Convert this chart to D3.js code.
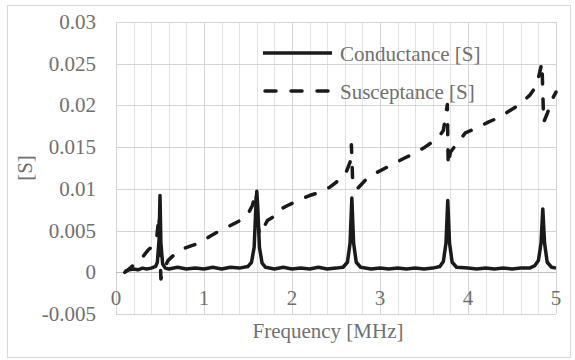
<!DOCTYPE html>
<html lang="en">
<head>
	<meta charset="utf-8">
	<title>Conductance and Susceptance</title>
	<script src="https://d3js.org/d3.v7.min.js"></script>
	<style>
		body { margin: 0; background: #fff; }
		.grid line { stroke: #e2e2e2; stroke-width: 1px; }
		.grid line.major { stroke: #d4d4d4; }
	</style>
</head>
<body>
	<div id="chart"></div>
	<script>
		// conductance
		var condFreq = [0.10, 0.15, 0.20, 0.25, 0.30, 0.35, 0.40, 0.45, 0.47, 0.49, 0.50, 0.51, 0.53, 0.56,
			0.60, 0.70, 0.80, 0.90, 1.00, 1.10, 1.20, 1.30, 1.40, 1.50, 1.54, 1.57, 1.59, 1.60, 1.61, 1.63, 1.66,
			1.70, 1.80, 1.90, 2.00, 2.10, 2.20, 2.30, 2.40, 2.50, 2.58, 2.63, 2.66, 2.68, 2.70, 2.73, 2.78,
			2.90, 3.00, 3.10, 3.20, 3.30, 3.40, 3.50, 3.60, 3.68, 3.72, 3.75, 3.77, 3.79, 3.82, 3.87,
			4.00, 4.10, 4.20, 4.30, 4.40, 4.50, 4.60, 4.70, 4.76, 4.80, 4.83, 4.85, 4.87, 4.90, 4.95, 5.00];
		var conductance = [0.0001, 0.0003, 0.0004, 0.0003, 0.0005, 0.0004, 0.0005, 0.0007, 0.0012, 0.0040, 0.0092, 0.0035, 0.0010, 0.0005,
			0.0004, 0.0006, 0.0004, 0.0005, 0.0004, 0.0006, 0.0004, 0.0006, 0.0005, 0.0007, 0.0012, 0.0030, 0.0080, 0.0097, 0.0080, 0.0030, 0.0011,
			0.0006, 0.0004, 0.0006, 0.0004, 0.0005, 0.0004, 0.0006, 0.0004, 0.0005, 0.0006, 0.0012, 0.0035, 0.0089, 0.0035, 0.0012, 0.0006,
			0.0004, 0.0005, 0.0004, 0.0005, 0.0004, 0.0005, 0.0004, 0.0005, 0.0007, 0.0013, 0.0035, 0.0086, 0.0035, 0.0012, 0.0006,
			0.0005, 0.0004, 0.0005, 0.0004, 0.0005, 0.0004, 0.0005, 0.0005, 0.0008, 0.0014, 0.0035, 0.0076, 0.0035, 0.0012, 0.0006, 0.0005];

		// susceptance
		var suscFreq = [0.10, 0.17, 0.24, 0.30, 0.36, 0.42, 0.46, 0.49, 0.50, 0.51, 0.53, 0.59, 0.69, 0.78, 0.86, 0.95,
			1.05, 1.18, 1.30, 1.41, 1.49, 1.55, 1.59, 1.61, 1.63, 1.66, 1.72, 1.81, 1.84, 1.95, 2.07, 2.20, 2.32,
			2.43, 2.49, 2.60, 2.66, 2.675, 2.69, 2.72, 2.75, 2.83, 2.97, 3.08, 3.19, 3.28, 3.40, 3.51, 3.66, 3.72,
			3.765, 3.775, 3.80, 3.88, 3.97, 4.10, 4.23, 4.34, 4.45, 4.57, 4.70, 4.78, 4.84, 4.86, 4.90, 4.95, 5.00];
		var susceptance = [0.0000, 0.0006, 0.0012, 0.0018, 0.0026, 0.0032, 0.0040, 0.0068, 0.0030, -0.0008, 0.0000, 0.0014, 0.0024, 0.0029, 0.0032, 0.0035,
			0.0042, 0.0050, 0.0056, 0.0062, 0.0068, 0.0080, 0.0096, 0.0060, 0.0045, 0.0050, 0.0062, 0.0068, 0.0074, 0.0080, 0.0086, 0.0092, 0.0096,
			0.0102, 0.0107, 0.0116, 0.0132, 0.0153, 0.0108, 0.0100, 0.0101, 0.0110, 0.0120, 0.0126, 0.0132, 0.0137, 0.0143, 0.0150, 0.0161, 0.0170,
			0.0201, 0.0128, 0.0144, 0.0155, 0.0167, 0.0173, 0.0180, 0.0185, 0.0192, 0.0200, 0.0212, 0.0224, 0.0251, 0.0180, 0.0190, 0.0206, 0.0216];

		var xTicks = [0, 1, 2, 3, 4, 5];
		var yTicks = [-0.005, 0, 0.005, 0.01, 0.015, 0.02, 0.025, 0.03];
		var yLabels = ["-0.005", "0", "0.005", "0.01", "0.015", "0.02", "0.025", "0.03"];
		var seriesNames = ["Conductance [S]", "Susceptance [S]"];

		(function() {
			var width = 575, height = 360;
			var pLeft = 116, pRight = 556, pTop = 22, pBottom = 314;
			var font = "'Liberation Serif'", textColor = "#707070";

			var svg = d3.select("#chart").append("svg")
				.attr("width", width)
				.attr("height", height);

			function label(sel) {
				return sel.attr("font-family", font)
					.attr("fill", textColor)
					.style("font-size", "21px");
			}

			// chart area border
			svg.append("rect")
				.attr("x", 7.5).attr("y", 5.5)
				.attr("width", 563).attr("height", 352)
				.attr("fill", "none")
				.attr("stroke", "#d9d9d9");

			var x = d3.scaleLinear().domain([0, 5]).range([pLeft, pRight]);
			var y = d3.scaleLinear().domain([-0.005, 0.03]).range([pBottom, pTop]);

			// gridlines: vertical every 0.2, horizontal every 0.005
			var grid = svg.append("g").attr("class", "grid");
			grid.selectAll("line.v")
				.data(d3.range(0, 26))
				.enter().append("line")
				.attr("class", function(i) { return i % 5 == 0 ? "v major" : "v minor"; })
				.attr("x1", function(i) { return Math.round(x(i * 0.2)) + 0.5; })
				.attr("x2", function(i) { return Math.round(x(i * 0.2)) + 0.5; })
				.attr("y1", pTop).attr("y2", pBottom);
			grid.selectAll("line.h")
				.data(yTicks)
				.enter().append("line")
				.attr("class", "h major")
				.attr("x1", pLeft).attr("x2", pRight)
				.attr("y1", function(d) { return Math.round(y(d)) + 0.5; })
				.attr("y2", function(d) { return Math.round(y(d)) + 0.5; });

			// zero axis line
			svg.append("line")
				.attr("x1", pLeft).attr("x2", pRight)
				.attr("y1", Math.round(y(0)) + 0.5).attr("y2", Math.round(y(0)) + 0.5)
				.attr("stroke", "#bfbfbf").attr("stroke-width", 1.2);

			// tick labels
			svg.append("g").selectAll("text")
				.data(yTicks)
				.enter().append("text")
				.call(label)
				.attr("x", 96)
				.attr("y", function(d) { return y(d) + 7; })
				.attr("text-anchor", "end")
				.text(function(d, i) { return yLabels[i]; });

			svg.append("g").selectAll("text")
				.data(xTicks)
				.enter().append("text")
				.call(label)
				.attr("x", function(d) { return x(d); })
				.attr("y", 305)
				.attr("text-anchor", "middle")
				.text(function(d) { return d; });

			// axis titles
			svg.append("text")
				.call(label)
				.attr("x", 328).attr("y", 338)
				.attr("text-anchor", "middle")
				.text("Frequency [MHz]");
			svg.append("text")
				.call(label)
				.attr("transform", "translate(32," + ((pTop + pBottom) / 2) + ") rotate(-90)")
				.attr("text-anchor", "middle")
				.text("[S]");

			var condData = condFreq.map(function(f, i) { return [f, conductance[i]]; });
			var suscData = suscFreq.map(function(f, i) { return [f, susceptance[i]]; });

			var line = d3.line()
				.x(function(d) { return x(d[0]); })
				.y(function(d) { return y(d[1]); });

			svg.append("path")
				.datum(condData)
				.attr("d", line)
				.attr("fill", "none")
				.attr("stroke", "#1a1a1a")
				.attr("stroke-width", 3.5)
				.attr("stroke-linejoin", "round");

			svg.append("path")
				.datum(suscData)
				.attr("d", line)
				.attr("fill", "none")
				.attr("stroke", "#1a1a1a")
				.attr("stroke-width", 3.5)
				.attr("stroke-linecap", "round")
				.attr("stroke-linejoin", "round")
				.attr("stroke-dasharray", "10,15");

			// legend
			var legend = svg.append("g");
			seriesNames.forEach(function(name, i) {
				var ly = 53 + i * 38;
				legend.append("line")
					.attr("x1", i == 0 ? 263 : 265).attr("x2", i == 0 ? 332 : 331)
					.attr("y1", ly).attr("y2", ly)
					.attr("stroke", "#1a1a1a")
					.attr("stroke-width", 3.5)
					.attr("stroke-linecap", i == 0 ? "butt" : "round")
					.attr("stroke-dasharray", i == 0 ? null : "11,15");
				legend.append("text")
					.call(label)
					.attr("x", 340).attr("y", ly + 8)
					.text(name);
			});
		})();
	</script>
</body>
</html>
